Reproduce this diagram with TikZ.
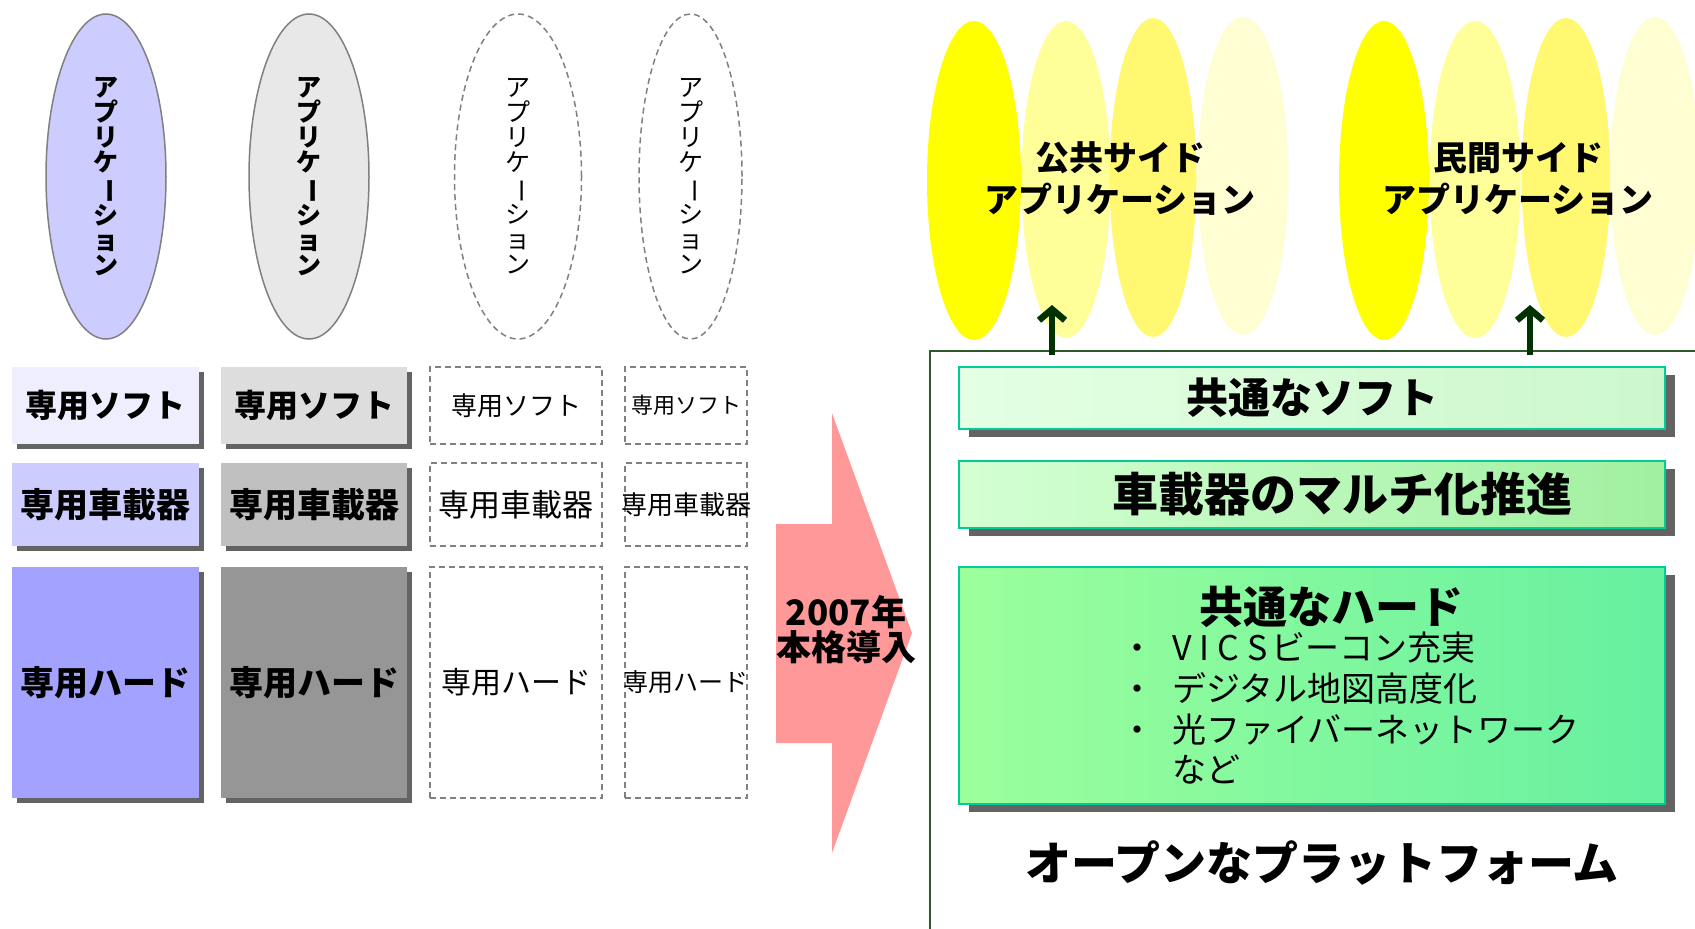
\documentclass[tikz,border=0pt]{standalone}
\usepackage{fontspec}
\setmainfont{Noto Sans CJK JP}
\usepackage{graphicx}
\usetikzlibrary{shapes.geometric,shadows,arrows.meta}
\definecolor{shadowgray}{HTML}{636363}
\definecolor{ellgray}{HTML}{808080}
\definecolor{lav1}{HTML}{CCCCFF}
\definecolor{gray1}{HTML}{E8E8E8}
\definecolor{softA}{HTML}{EEEEFF}
\definecolor{softB}{HTML}{DDDDDD}
\definecolor{vehA}{HTML}{CCCCFF}
\definecolor{vehB}{HTML}{C0C0C0}
\definecolor{hardA}{HTML}{A3A3FF}
\definecolor{hardB}{HTML}{969696}
\definecolor{arrowpink}{HTML}{FF9999}
\definecolor{framegreen}{HTML}{2D5A2D}
\definecolor{darkgreen}{HTML}{003300}
\definecolor{tealborder}{HTML}{00CC99}
\definecolor{yel1}{HTML}{FFFF00}
\definecolor{yel2}{HTML}{FFFF99}
\definecolor{yel3}{HTML}{FFF870}
\definecolor{yel4}{HTML}{FFFDD2}
\definecolor{gAl}{HTML}{E4FFE4}
\definecolor{gAr}{HTML}{CCF7CC}
\definecolor{gBl}{HTML}{D4FFD4}
\definecolor{gBr}{HTML}{A0F0A0}
\definecolor{gCl}{HTML}{9CFF9C}
\definecolor{gCr}{HTML}{66F0A0}
\newcommand\fsz[1]{\fontsize{#1}{#1}\selectfont}
\newcommand\vapp{ア\\プ\\リ\\ケ\\\rotatebox[origin=c]{-90}{ー}\\シ\\ョ\\ン}
\newcommand\nowid[1]{\makebox[0pt][c]{#1}}
\begin{document}
\begin{tikzpicture}[x=1pt,y=-1pt,
  appell/.style={ellipse, draw=ellgray, line width=1.5pt, inner sep=0pt, minimum height=325pt, align=center, font=\fontsize{25}{25}\selectfont\bfseries},
  appdash/.style={ellipse, draw=ellgray, line width=1.5pt, dash pattern=on 6pt off 4pt, inner sep=0pt, minimum height=325pt, align=center, font=\fontsize{25}{25}\selectfont},
  leftbox/.style={rectangle, inner sep=0pt, general shadow={fill=shadowgray, shadow xshift=5pt, shadow yshift=-5pt}},
  dashbox/.style={rectangle, draw=ellgray, line width=1.5pt, dash pattern=on 6pt off 4pt, inner sep=0pt},
  ylw/.style={ellipse, inner sep=0pt},
  rbox/.style={rectangle, draw=tealborder, line width=2pt, inner sep=0pt, minimum width=706pt, general shadow={fill=shadowgray, shadow xshift=10pt, shadow yshift=-8pt}},
  uparrow/.style={draw=darkgreen, line width=6.5pt, -{Straight Barb[length=11pt,width=26pt]}}
]
\useasboundingbox (0,0) rectangle (1695,929);
% left ellipses
\node[appell, fill=lav1, minimum width=120pt] (app1) at (106,176.5) {\vapp};
\node[appell, fill=gray1, minimum width=120pt] (app2) at (309,176.5) {\vapp};
\node[appdash, minimum width=127pt] (app3) at (518,176.5) {\vapp};
\node[appdash, minimum width=103pt] (app4) at (690.5,176.5) {\vapp};
% soft row
\node[leftbox, fill=softA, minimum width=187pt, minimum height=77pt, font=\fsz{32}\bfseries] (softa) at (105.5,405.5) {専用ソフト};
\node[leftbox, fill=softB, minimum width=186pt, minimum height=77pt, font=\fsz{32}\bfseries] (softb) at (314,405.5) {専用ソフト};
\node[dashbox, minimum width=172pt, minimum height=77pt, font=\fsz{26}] (softc) at (516,405.5) {専用ソフト};
\node[dashbox, minimum width=122pt, minimum height=77pt, font=\fsz{22}] (softd) at (686,405.5) {\nowid{専用ソフト}};
% vehicle row
\node[leftbox, fill=vehA, minimum width=187pt, minimum height=83pt, font=\fsz{34}\bfseries] (veha) at (105.5,504.5) {専用車載器};
\node[leftbox, fill=vehB, minimum width=186pt, minimum height=83pt, font=\fsz{34}\bfseries] (vehb) at (314,504.5) {専用車載器};
\node[dashbox, minimum width=172pt, minimum height=83pt, font=\fsz{31}] (vehc) at (516,504.5) {専用車載器};
\node[dashbox, minimum width=122pt, minimum height=83pt, font=\fsz{26}] (vehd) at (686,504.5) {\nowid{専用車載器}};
% hard row
\node[leftbox, fill=hardA, minimum width=187pt, minimum height=231pt, font=\fsz{34}\bfseries] (harda) at (105.5,682.5) {専用ハード};
\node[leftbox, fill=hardB, minimum width=186pt, minimum height=231pt, font=\fsz{34}\bfseries] (hardb) at (314,682.5) {専用ハード};
\node[dashbox, minimum width=172pt, minimum height=231pt, font=\fsz{30}] (hardc) at (516,682.5) {専用ハード};
\node[dashbox, minimum width=122pt, minimum height=231pt, font=\fsz{25}] (hardd) at (686,682.5) {\nowid{専用ハード}};
% big arrow
\fill[arrowpink] (776,524) -- (832,524) -- (832,413) -- (912,633) -- (832,853) -- (832,743) -- (776,743) -- cycle;
\node[font=\fsz{35}\bfseries, align=center] (intro) at (846,630) {2007年\\本格導入};
% frame
\draw[framegreen, line width=2pt] (1695,351) -- (930,351) -- (930,929);
% yellow ellipses
\node[ylw, fill=yel1, minimum width=94pt, minimum height=319pt] (y1) at (974,180.5) {};
\node[ylw, fill=yel2, minimum width=89pt, minimum height=317pt] (y2) at (1066,179.5) {};
\node[ylw, fill=yel3, minimum width=87pt, minimum height=319pt] (y3) at (1153,177.5) {};
\node[ylw, fill=yel4, minimum width=91pt, minimum height=318pt] (y4) at (1243,176) {};
\node[ylw, fill=yel1, minimum width=90pt, minimum height=319pt] (y5) at (1384,180.5) {};
\node[ylw, fill=yel2, minimum width=91pt, minimum height=317pt] (y6) at (1475,179.5) {};
\node[ylw, fill=yel3, minimum width=89pt, minimum height=319pt] (y7) at (1566,177.5) {};
\node[ylw, fill=yel4, minimum width=90pt, minimum height=318pt] (y8) at (1655,176) {};
\node[font=\fontsize{34}{42}\selectfont\bfseries, align=center] (pubtxt) at (1120,179) {公共サイド\\アプリケーション};
\node[font=\fontsize{34}{42}\selectfont\bfseries, align=center] (pritxt) at (1518,179) {民間サイド\\アプリケーション};
% arrows
\coordinate (a1s) at (1052,355);
\coordinate (a1e) at (1052,305);
\coordinate (a2s) at (1530,355);
\coordinate (a2e) at (1530,305);
\draw[uparrow] (a1s) -- (a1e);
\draw[uparrow] (a2s) -- (a2e);
% right boxes
\node[rbox, minimum height=62pt, left color=gAl, right color=gAr, font=\fsz{42}\bfseries] (csoft) at (1312,398) {共通なソフト};
\node[rbox, minimum height=67pt, left color=gBl, right color=gBr, font=\fsz{46}\bfseries] (multi) at (1312,494.5) {\hspace*{60pt}車載器のマルチ化推進};
\node[rbox, minimum height=237pt, left color=gCl, right color=gCr] (chard) at (1312,685.5) {};
\node[font=\fsz{44}\bfseries] (chardt) at (1331,607) {共通なハード};
\node[anchor=west, font=\fontsize{34}{40}\selectfont, inner sep=0pt] (hwlist) at (1120,713) {\begin{tabular}{@{}l@{\hspace{18pt}}l@{}}・&V\hspace{8pt}I\hspace{8pt}C\hspace{8pt}S\hspace{4pt}ビーコン充実\\ ・&デジタル地図高度化\\ ・&光ファイバーネットワーク\\ &など\end{tabular}};
\node[font=\fsz{46}\bfseries] (platform) at (1322,863) {オープンなプラットフォーム};
\end{tikzpicture}
\end{document}
